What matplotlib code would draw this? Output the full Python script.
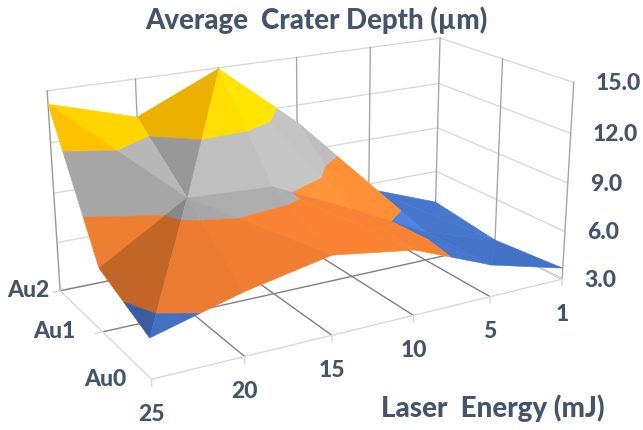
# 3D surface chart, crater depth vs laser energy
import numpy as np
import matplotlib
matplotlib.use("Agg")
import matplotlib.pyplot as plt
from mpl_toolkits.mplot3d import proj3d
from mpl_toolkits.mplot3d.art3d import Poly3DCollection

energy = ["25", "20", "15", "10", "5", "1"]
targets = ["Au0", "Au1", "Au2"]
depth_au0 = [5.28, 6.64, 7.64, 6.90, 4.96, 3.70]
depth_au1 = [6.72, 9.78, 9.52, 7.26, 4.82, 3.30]
depth_au2 = [14.24, 12.74, 14.95, 10.92, 5.66, 3.84]
z_ticks = [3.0, 6.0, 9.0, 12.0, 15.0]
band_colors = ["#4472C4", "#ED7D31", "#A5A5A5", "#FFC000"]

# which way each grid square is folded, a = (i,j)-(i+1,j+1), b = (i+1,j)-(i,j+1)
folds_front = ["a", "b", "b", "b", "a"]
folds_back = ["b", "a", "b", "b", "b"]

text_color = "#44546A"
font = "Lato"
depth = np.array([depth_au0, depth_au1, depth_au2])


def clip(poly, level, keep_above):
    # cut a polygon with a horizontal plane
    out = []
    for k in range(len(poly)):
        a, b = poly[k], poly[(k + 1) % len(poly)]
        in_a = a[2] >= level if keep_above else a[2] <= level
        in_b = b[2] >= level if keep_above else b[2] <= level
        if in_a:
            out.append(a)
        if in_a != in_b:
            t = (level - a[2]) / (b[2] - a[2])
            out.append(a + t * (b - a))
    return out


def shade(tri, color):
    # facets rising to the right are darker, the ones facing front are lighter
    p = [v * np.array([0.2, 0.25, 0.0379]) for v in tri]
    n = np.cross(p[1] - p[0], p[2] - p[0])
    if n[2] < 0:
        n = -n
    gx, gy = -n[0] / n[2], -n[1] / n[2]
    f = 0.985 + 0.2 * gy - (0.36 * gx if gx > 0 else 0.12 * gx)
    f = np.clip(f, 0.78, 1.2)
    return tuple(np.clip(np.array(matplotlib.colors.to_rgb(color)) * f, 0, 1))


triangles = []
for j, folds in enumerate([folds_front, folds_back]):
    for i, fold in enumerate(folds):
        v = lambda a, b: np.array([a, b, depth[b, a]], float)
        p00, p10, p01, p11 = v(i, j), v(i + 1, j), v(i, j + 1), v(i + 1, j + 1)
        if fold == "a":
            triangles += [[p00, p10, p11], [p00, p11, p01]]
        else:
            triangles += [[p10, p11, p01], [p10, p01, p00]]

polys, colors = [], []
for tri in triangles:
    for b, color in enumerate(band_colors):
        piece = clip(clip(tri, z_ticks[b], True), z_ticks[b + 1], False)
        if len(piece) >= 3:
            polys.append(np.array(piece))
            colors.append(shade(tri, color))

fig = plt.figure(figsize=(6.43, 4.3), dpi=100)
ax = fig.add_axes([36.2 / 643, -35.1 / 430, 539.4 / 643, 539.4 / 430], projection="3d")
ax.computed_zorder = False
ax.set_axis_off()

nx, ny = len(energy) - 1, len(targets) - 1
zlo, zhi = z_ticks[0], z_ticks[-1]
light = "#D9D9D9"
mid = "#A6A6A6"
dark = "#808080"

# walls
for z in z_ticks:
    ax.plot([0, nx, nx], [ny, ny, 0], [z, z, z], color=light, lw=1, zorder=1)
for i in range(nx + 1):
    ax.plot([i, i], [ny, ny], [zlo, zhi], color=mid if i else "#999999", lw=1, zorder=1.2)
for j in range(ny):
    ax.plot([nx, nx], [j, j], [zlo, zhi], color=mid, lw=1, zorder=1.2)
# floor
for i in range(1, nx + 1):
    ax.plot([i, i], [0, ny], [zlo, zlo], color=dark, lw=1, zorder=1.1)
ax.plot([0, nx], [1, 1], [zlo, zlo], color=dark, lw=1, zorder=1.1)
ax.plot([0, nx], [ny, ny], [zlo, zlo], color=dark, lw=1, zorder=1.1)
ax.plot([0, nx], [0, 0], [zlo, zlo], color=light, lw=1, zorder=1.3)
ax.plot([0, 0], [0, ny], [zlo, zlo], color=light, lw=1, zorder=1.3)
ax.plot([nx, nx], [0, ny], [zlo, zlo], color=light, lw=1, zorder=1.3)
for i in range(nx + 1):
    ax.plot([i, i], [0, 0], [zlo, zlo - 0.4], color=light, lw=1, zorder=1.3)
ax.plot([0, -0.08], [1, 1], [zlo, zlo], color=light, lw=1, zorder=1.3)
ax.plot([0, -0.08], [ny, ny], [zlo, zlo], color=light, lw=1, zorder=1.3)

surf = Poly3DCollection(polys, facecolors=colors, edgecolors=colors, linewidths=0.4, zsort="average", zorder=2)
ax.add_collection3d(surf, autolim=False)

ax.set_xlim(0, nx)
ax.set_ylim(0, ny)
ax.set_zlim(zlo, zhi)
ax.set_box_aspect((1, 0.5015625, 0.4546875))
ax.view_init(18.671875, -119.71875, 0.140625)
ax.set_proj_type("persp", focal_length=0.48125)


def label(x, y, z, s, dx, dy, ha):
    u, v, _ = proj3d.proj_transform(x, y, z, ax.get_proj())
    ax.annotate(s, xy=(u, v), xytext=(dx, dy), textcoords="offset pixels", ha=ha, va="center",
                color=text_color, fontsize=16.5, fontweight=900, family=font, annotation_clip=False)


for i, s in enumerate(energy):
    label(i, 0, zlo, s, 0, -35, "center")
for j, s in enumerate(targets):
    label(0, j, zlo, s, [-25, -27, -11][j], 0, "right")
for z in z_ticks:
    label(nx, 0, z, "%.1f" % z, 22, -1, "left")

fig.text(316 / 643, 1 - 20 / 430, "Average  Crater Depth (µm)", ha="center", va="center",
         color=text_color, fontsize=19.9, fontweight=900, family=font)
fig.text(493 / 643, 1 - 408 / 430, "Laser  Energy (mJ)", ha="center", va="center",
         color=text_color, fontsize=20, fontweight=900, family=font)

fig.savefig("out.png", dpi=100)
